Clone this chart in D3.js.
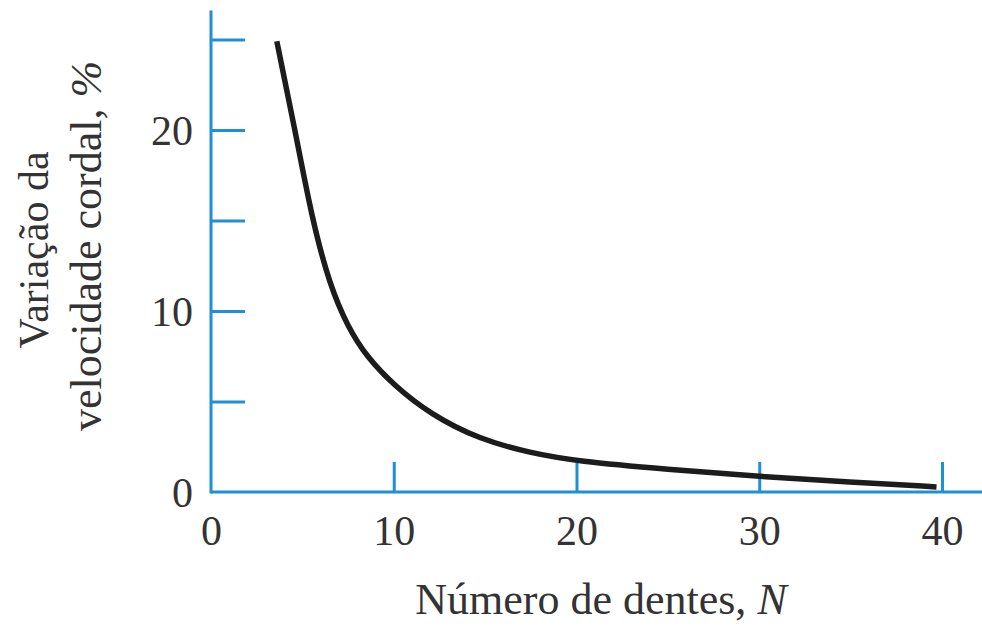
<!DOCTYPE html>
<html>
<head>
<meta charset="utf-8">
<script src="https://cdn.jsdelivr.net/npm/d3@7"></script>
<style>
  body { margin: 0; background: #fff; }
  text { font-family: "Liberation Serif", "DejaVu Serif", serif; fill: #333; }
</style>
</head>
<body>
<div id="chart"></div>
<script>
// values
var teeth = [3.6, 4.6, 5.5, 6.5, 7.5, 8.5, 10, 12, 14.7, 17.5, 20, 25, 30, 35, 39.7];
var variation = [24.9, 20.0, 15.2, 11.4, 9.1, 7.5, 5.9, 4.3, 2.9, 2.15, 1.7, 1.25, 0.85, 0.55, 0.28];
var xTickLabels = [0, 10, 20, 30, 40];
var xTickMarks = [10, 20, 30, 40];
var yTickLabels = [0, 10, 20];
var yTickMarks = [5, 10, 15, 20, 25];

var width = 982, height = 626;
var blue = "#1f8fd6";

var svg = d3.select("#chart")
    .append("svg")
    .attr("width", width)
    .attr("height", height);

var x = d3.scaleLinear().domain([0, 40]).range([211, 942]);
var y = d3.scaleLinear().domain([0, 25]).range([492, 39.5]);

// axis lines
svg.append("line")
    .attr("x1", x(0)).attr("x2", x(42.5))
    .attr("y1", y(0)).attr("y2", y(0))
    .attr("stroke", blue).attr("stroke-width", 3);
svg.append("line")
    .attr("x1", x(0)).attr("x2", x(0))
    .attr("y1", y(0) + 1.5).attr("y2", y(26.6))
    .attr("stroke", blue).attr("stroke-width", 3);

// tick marks
var xTicks = svg.append("g")
    .attr("transform", "translate(0," + y(0) + ")")
    .call(d3.axisTop(x).tickValues(xTickMarks).tickSize(30).tickFormat(""));
var yTicks = svg.append("g")
    .attr("transform", "translate(" + x(0) + ",0)")
    .call(d3.axisRight(y).tickValues(yTickMarks).tickSize(34).tickFormat(""));
[xTicks, yTicks].forEach(function (g) {
    g.select(".domain").remove();
    g.selectAll(".tick line").attr("stroke", blue).attr("stroke-width", 3);
});

// tick labels
var xLab = svg.append("g")
    .attr("transform", "translate(0," + (y(0) + 10) + ")")
    .call(d3.axisBottom(x).tickValues(xTickLabels).tickSize(0));
var yLab = svg.append("g")
    .attr("transform", "translate(" + (x(0) - 18) + ",0)")
    .call(d3.axisLeft(y).tickValues(yTickLabels).tickSize(0));
[xLab, yLab].forEach(function (g) {
    g.select(".domain").remove();
    g.selectAll("text")
        .style("font-family", "'Liberation Serif', serif")
        .style("font-size", "42px")
        .attr("fill", "#333");
});
yLab.selectAll("text").attr("x", 0).attr("dy", "0.34em");
xLab.selectAll("text").attr("dy", "0.95em");

// curve
var line = d3.line()
    .x(function (d, i) { return x(teeth[i]); })
    .y(function (d) { return y(d); })
    .curve(d3.curveBasis);

svg.append("path")
    .datum(variation)
    .attr("d", line)
    .attr("fill", "none")
    .attr("stroke", "#1c1c1c")
    .attr("stroke-width", 5.5);

// axis titles
var xt = svg.append("text")
    .attr("x", 601)
    .attr("y", 614)
    .attr("text-anchor", "middle")
    .style("font-size", "44px");
xt.append("tspan").text("Número de dentes, ");
xt.append("tspan").style("font-style", "italic").text("N");

var yt = svg.append("text")
    .attr("transform", "translate(48,250) rotate(-90)")
    .attr("text-anchor", "middle")
    .style("font-size", "42px");
yt.append("tspan").attr("x", 0).attr("y", 0).text("Variação da");
var yt2 = svg.append("text")
    .attr("transform", "translate(101,246) rotate(-90)")
    .attr("text-anchor", "middle")
    .style("font-size", "44px");
yt2.append("tspan").text("velocidade cordal, ");
yt2.append("tspan").style("font-style", "italic").text("%");
</script>
</body>
</html>
